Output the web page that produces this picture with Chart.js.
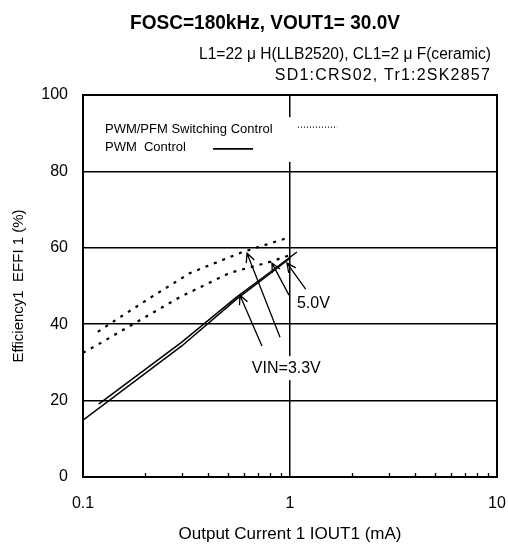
<!DOCTYPE html>
<html>
<head>
<meta charset="utf-8">
<script src="https://cdn.jsdelivr.net/npm/chart.js@4/dist/chart.umd.min.js"></script>
<style>
  html, body { margin: 0; padding: 0; background: #fff; }
  canvas { display: block; }
</style>
</head>
<body>
<canvas id="effChart" width="508" height="545"></canvas>
<script>
'use strict';

// ------------------------------------------------------------
// data
// ------------------------------------------------------------
const TITLE = 'FOSC=180kHz, VOUT1= 30.0V';
const SUBTITLE = ['L1=22 \u03bc H(LLB2520), CL1=2 \u03bc F(ceramic)', 'SD1:CRS02, Tr1:2SK2857'];
const X_TITLE = 'Output Current 1 IOUT1 (mA)';
const Y_TITLE = 'Efficiency1  EFFI 1 (%)';

const X_TICKS = [0.1, 1, 10];
const X_MINOR = [0.2, 0.3, 0.4, 0.5, 0.6, 0.7, 0.8, 0.9, 2, 3, 4, 5, 6, 7, 8, 9];

// PWM control (solid)
const PWM33_X = [0.1, 0.3, 0.55, 0.8, 1.0];
const PWM33_Y = [14.9, 34.3, 46.5, 53.2, 57.3];
const PWM50_X = [0.119, 0.3, 0.55, 0.8, 1.08];
const PWM50_Y = [19.1, 35.3, 47.0, 53.6, 58.9];

// PWM/PFM switching control (dotted)
const PFM33_X = [0.118, 0.143, 0.211, 0.329, 0.59, 1.0];
const PFM33_Y = [38.0, 41.0, 46.9, 53.4, 58.9, 62.8];
const PFM50_X = [0.1, 0.122, 0.178, 0.294, 0.51, 0.8, 1.0];
const PFM50_Y = [32.5, 35.1, 40.3, 47.1, 53.4, 56.3, 58.1];

// arrows: [tailX, tailY, headX, headY] in data units
const ARROWS_33 = [[0.732, 34.3, 0.573, 47.6], [0.895, 36.6, 0.62, 58.6]];
const ARROWS_50 = [[0.989, 47.6, 0.818, 56.0], [1.19, 49.2, 0.967, 56.0]];

const LEGEND_LABELS = ['PWM/PFM Switching Control', 'PWM  Control'];

// ------------------------------------------------------------
// helpers
// ------------------------------------------------------------
const FONT = '"Liberation Sans", Arial, sans-serif';

function toPoints(xs, ys) {
  return xs.map((x, i) => ({ x, y: ys[i] }));
}

function drawArrow(ctx, x1, y1, x2, y2) {
  const ang = Math.atan2(y2 - y1, x2 - x1);
  const len = 10;
  const spread = 0.45;
  ctx.beginPath();
  ctx.moveTo(x1, y1);
  ctx.lineTo(x2, y2);
  ctx.moveTo(x2 - len * Math.cos(ang - spread), y2 - len * Math.sin(ang - spread));
  ctx.lineTo(x2, y2);
  ctx.lineTo(x2 - len * Math.cos(ang + spread), y2 - len * Math.sin(ang + spread));
  ctx.stroke();
}

// ------------------------------------------------------------
// annotation plugin: frame, minor ticks, legend, arrows, labels
// ------------------------------------------------------------
const annotPlugin = {
  id: 'annot',
  afterDatasetsDraw(chart) {
    const { ctx, chartArea: a, scales: { x, y } } = chart;
    const px = v => x.getPixelForValue(v);
    const py = v => y.getPixelForValue(v);
    ctx.save();
    ctx.strokeStyle = '#000';
    ctx.fillStyle = '#000';

    // minor ticks (inward, bottom only)
    ctx.lineWidth = 1.3;
    X_MINOR.forEach(v => {
      const X = Math.round(px(v)) + 0.5;
      ctx.beginPath();
      ctx.moveTo(X, a.bottom);
      ctx.lineTo(X, a.bottom - 4);
      ctx.stroke();
    });

    // frame
    ctx.lineWidth = 2;
    ctx.strokeRect(a.left, a.top, a.right - a.left, a.bottom - a.top);

    // legend box
    ctx.fillStyle = '#fff';
    ctx.fillRect(px(0.12), py(94.2), px(1.85) - px(0.12), py(82.5) - py(94.2));
    ctx.fillStyle = '#000';
    ctx.font = '13px ' + FONT;
    ctx.textBaseline = 'middle';
    ctx.textAlign = 'left';
    ctx.fillText(LEGEND_LABELS[0], px(0.1277), py(91.1));
    ctx.fillText(LEGEND_LABELS[1], px(0.1277), py(86.4));
    ctx.lineWidth = 1.3;
    ctx.setLineDash([1, 2]);
    ctx.beginPath();
    ctx.moveTo(px(1.092), py(91.6));
    ctx.lineTo(px(1.69), py(91.6));
    ctx.stroke();
    ctx.setLineDash([]);
    ctx.lineWidth = 1.8;
    ctx.beginPath();
    ctx.moveTo(px(0.425), py(85.9));
    ctx.lineTo(px(0.663), py(85.9));
    ctx.stroke();

    // arrows
    ctx.lineWidth = 1.3;
    ARROWS_33.concat(ARROWS_50).forEach(r => {
      drawArrow(ctx, px(r[0]), py(r[1]), px(r[2]), py(r[3]));
    });

    // labels
    ctx.font = '16px ' + FONT;
    ctx.textAlign = 'left';
    ctx.fillText('5.0V', px(1.08), py(45.5));
    ctx.textAlign = 'center';
    const vx = px(0.96), vy = py(28.5);
    ctx.fillStyle = '#fff';
    ctx.fillRect(vx - 38, vy - 12, 76, 24);
    ctx.fillStyle = '#000';
    ctx.fillText('VIN=3.3V', vx, vy);

    ctx.restore();
  },
  afterDraw(chart) {
    const { ctx } = chart;
    ctx.save();
    ctx.fillStyle = '#000';
    ctx.textBaseline = 'middle';
    ctx.font = 'bold 20px ' + FONT;
    ctx.textAlign = 'center';
    ctx.fillText(TITLE, 265, 23, 270);
    ctx.font = '16px ' + FONT;
    ctx.textAlign = 'right';
    ctx.fillText(SUBTITLE[0], 491, 55, 292);
    ctx.letterSpacing = '1.2px';
    ctx.fillText(SUBTITLE[1], 491, 76);
    ctx.restore();
  },
};

// ------------------------------------------------------------
// chart
// ------------------------------------------------------------
const solid = { borderColor: '#000', borderWidth: 1.5, pointRadius: 0, tension: 0, fill: false };
const dotted = { borderColor: '#000', borderWidth: 2.2, borderDash: [3, 6], pointRadius: 0, tension: 0, fill: false };

new Chart(document.getElementById('effChart').getContext('2d'), {
  type: 'line',
  data: {
    datasets: [
      { label: 'PWM VIN=3.3V', data: toPoints(PWM33_X, PWM33_Y), ...solid },
      { label: 'PWM VIN=5.0V', data: toPoints(PWM50_X, PWM50_Y), ...solid },
      { label: 'PWM/PFM VIN=3.3V', data: toPoints(PFM33_X, PFM33_Y), ...dotted },
      { label: 'PWM/PFM VIN=5.0V', data: toPoints(PFM50_X, PFM50_Y), ...dotted },
    ],
  },
  options: {
    responsive: false,
    animation: false,
    devicePixelRatio: 1,
    layout: { padding: { top: 95, right: 11, left: 0, bottom: 0 } },
    plugins: {
      legend: { display: false },
      tooltip: { enabled: false },
    },
    scales: {
      x: {
        type: 'logarithmic',
        min: 0.1,
        max: 10,
        afterBuildTicks(scale) {
          scale.ticks = X_TICKS.map(v => ({ value: v }));
        },
        afterFit(scale) {
          scale.height = 68;
          scale.paddingLeft = 0;
          scale.paddingRight = 0;
        },
        border: { display: false },
        grid: {
          drawTicks: false,
          lineWidth: 1.5,
          color: ctx => (ctx.tick && ctx.tick.value === 1 ? '#000' : 'rgba(0,0,0,0)'),
        },
        ticks: {
          padding: 17,
          maxRotation: 0,
          color: '#000',
          font: { family: FONT, size: 16 },
          callback: v => String(v),
        },
        title: {
          display: true,
          text: X_TITLE,
          color: '#000',
          font: { family: FONT, size: 17 },
          padding: { top: 0, bottom: 0 },
        },
      },
      y: {
        min: 0,
        max: 100,
        afterFit(scale) { scale.width = 83; },
        border: { display: false },
        grid: {
          drawTicks: false,
          lineWidth: 1.5,
          color: ctx => (ctx.tick && (ctx.tick.value === 0 || ctx.tick.value === 100) ? 'rgba(0,0,0,0)' : '#000'),
        },
        ticks: {
          stepSize: 20,
          padding: 15,
          color: '#000',
          font: { family: FONT, size: 16 },
        },
        title: {
          display: true,
          text: Y_TITLE,
          color: '#000',
          font: { family: FONT, size: 15 },
          padding: { top: 10, bottom: 0 },
        },
      },
    },
  },
  plugins: [annotPlugin],
});
</script>
</body>
</html>
